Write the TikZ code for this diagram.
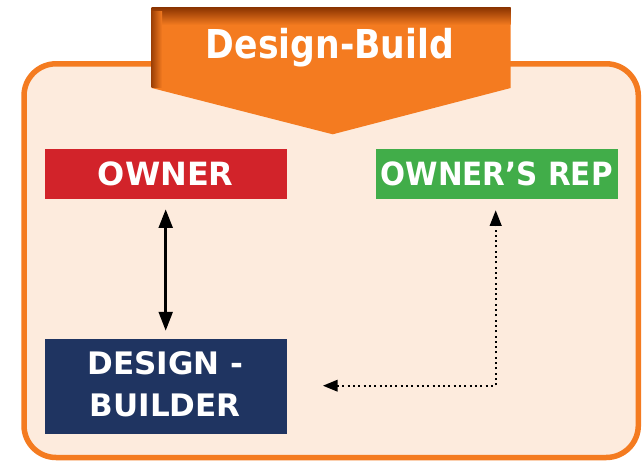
\documentclass[tikz,border=0pt]{standalone}
\usepackage{fontspec}
\setmainfont{DejaVu Sans}
\usetikzlibrary{arrows.meta}
\definecolor{peach}{HTML}{FDEBDD}
\definecolor{borange}{HTML}{F47B20}
\definecolor{bbrown}{HTML}{8A3300}
\definecolor{ownred}{HTML}{D2232A}
\definecolor{repgreen}{HTML}{41AD49}
\definecolor{navy}{HTML}{1F3461}
\tikzset{
  rolebox/.style={minimum width=242pt, inner sep=0pt, text=white,
    font=\bfseries\fontsize{32}{38}\selectfont},
  solidlink/.style={line width=3pt, {Triangle[length=18.7pt,width=13.7pt]}-{Triangle[length=19pt,width=13.7pt]}},
  dotlink/.style={line width=2pt, dash pattern=on 2pt off 3.3pt,
    {Triangle[length=14.7pt,width=11.5pt]}-{Triangle[length=15.7pt,width=11.7pt]}},
}
\begin{document}
\begin{tikzpicture}[x=1pt,y=-1pt]
\useasboundingbox (0,0) rectangle (643,462);
% outer frame
\draw[line width=5.5pt, draw=borange, fill=peach, rounded corners=32pt]
  (24,63.8) rectangle (638.3,457.5);
% banner
\fill[borange] (151.7,7.3) -- (510.7,7.3) -- (510.7,88) -- (332.7,134.3) -- (151.7,88) -- cycle;
\shade[top color=bbrown, bottom color=borange] (151.7,7.3) rectangle (510.7,25);
\shade[left color=bbrown!80!borange, right color=borange] (151.7,12) rectangle (162,88);
\node[text=white, font=\bfseries\fontsize{39.8}{44}\selectfont, inner sep=0pt]
  (title) at (330,47.2) {\scalebox{0.87}[1]{Design-Build}};
% boxes
\node[rolebox, fill=ownred, minimum height=50.3pt] (owner) at (165.7,174.2) {OWNER};
\node[rolebox, fill=repgreen, minimum height=50.3pt] (rep) at (496.7,174.2)
  {\scalebox{0.92}[1]{OWNER’S REP}};
\node[rolebox, fill=navy, minimum height=95pt, align=center,
  font=\bfseries\fontsize{31}{41.7}\selectfont] (db) at (165.7,386.5) {};
\node[text=white, inner sep=0pt, align=center, font=\bfseries\fontsize{31}{41.7}\selectfont,
  anchor=north] (dbtext) at (165.3,351.7) {DESIGN -\\BUILDER};
% connectors
\coordinate (bend) at (495.7,385.7);
\draw[solidlink, shorten <=9.7pt, shorten >=8pt] (owner.south) -- (db.north);
\draw[dotlink, shorten <=36pt, shorten >=10.7pt] (db.east |- bend) -- (bend) -- (bend |- rep.south);
\end{tikzpicture}
\end{document}
